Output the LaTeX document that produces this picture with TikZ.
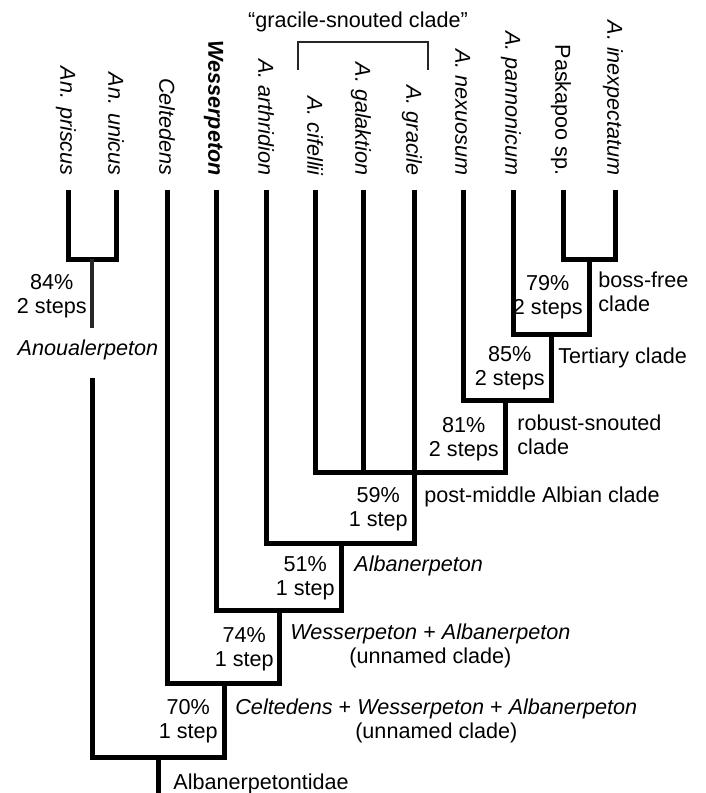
\documentclass[tikz,border=0pt]{standalone}
\usepackage{fontspec}
\setmainfont{Liberation Sans}
\begin{document}
\fontsize{10.8}{11.8}\selectfont
\begin{tikzpicture}[x=0.5pt, y=-0.5pt,
    branch/.style={line width=2.5pt, line join=miter},
    thinbranch/.style={line width=2pt, black!85},
    bracket/.style={line width=1.1pt, black!85},
    taxon/.style={rotate=-90, anchor=mid east, inner sep=0pt, font=\itshape},
    support/.style={align=center, anchor=base east, inner sep=0pt},
    cladename/.style={align=left, anchor=base west, inner sep=0pt}]
    \useasboundingbox (0,0) rectangle (706,793);

    \coordinate (priscus) at (68,190);
    \coordinate (unicus) at (116,190);
    \coordinate (celtedens) at (167,190);
    \coordinate (wesserpeton) at (216,190);
    \coordinate (arthridion) at (266,190);
    \coordinate (cifellii) at (315,190);
    \coordinate (galaktion) at (363,190);
    \coordinate (gracile) at (414,190);
    \coordinate (nexuosum) at (463,190);
    \coordinate (pannonicum) at (513,190);
    \coordinate (paskapoo) at (563,190);
    \coordinate (inexpectatum) at (615,190);

    \node[taxon] (lpriscus) at (66,176) {An. priscus};
    \node[taxon] (lunicus) at (114,176) {An. unicus};
    \node[taxon] (lceltedens) at (165,176) {Celtedens};
    \node[taxon, font=\bfseries\itshape] (lwesserpeton) at (214,176) {Wesserpeton};
    \node[taxon] (larthridion) at (264,176) {A. arthridion};
    \node[taxon] (lcifellii) at (313,176) {A. cifellii};
    \node[taxon] (lgalaktion) at (361,176) {A. galaktion};
    \node[taxon] (lgracile) at (412,176) {A. gracile};
    \node[taxon] (lnexuosum) at (461,176) {A. nexuosum};
    \node[taxon] (lpannonicum) at (511,176) {A. pannonicum};
    \node[taxon, font=\upshape] (lpaskapoo) at (561,176) {Paskapoo sp.};
    \node[taxon] (linexpectatum) at (613,176) {A. inexpectatum};

    \coordinate (gsleft) at (298,70);
    \coordinate (gsmid) at (363,42);
    \coordinate (gsright) at (428,70);
    \draw[bracket] (gsleft) |- (gsmid) -| (gsright);
    \node[anchor=base, inner sep=0pt] (lgracilesnouted) at (358,27) {“gracile-snouted clade”};

    \coordinate (anou) at (92,259);
    \coordinate (anougap) at (92,328);
    \coordinate (anoulow) at (92,378);
    \coordinate (bossfree) at (589,259);
    \coordinate (tertiary) at (551,334);
    \coordinate (robust) at (505,400);
    \coordinate (postmid) at (414,472);
    \coordinate (albanerpeton) at (341,543);
    \coordinate (wessalb) at (279,610);
    \coordinate (celtwa) at (224,683);
    \coordinate (root) at (158,757);
    \coordinate (rootend) at (158,793);

    \draw[branch] (priscus) |- (anou) -| (unicus);
    \draw[thinbranch] (anou) -- (anougap);
    \draw[branch] (paskapoo) |- (bossfree) -| (inexpectatum);
    \draw[branch] (pannonicum) |- (tertiary) -| (bossfree);
    \draw[branch] (nexuosum) |- (robust) -| (tertiary);
    \draw[branch] (cifellii) |- (postmid) -| (robust);
    \draw[branch] (galaktion) -- (galaktion |- postmid);
    \draw[branch] (arthridion) |- (albanerpeton) -| (gracile);
    \draw[branch] (wesserpeton) |- (wessalb) -| (albanerpeton);
    \draw[branch] (celtedens) |- (celtwa) -| (wessalb);
    \draw[branch] (anoulow) |- (root) -| (celtwa);
    \draw[branch] (root) -- (rootend);

    \node[support] (s84) at (87,313) {84\%\\2 steps};
    \node[support] (s79) at (583,314) {79\%\\2 steps};
    \node[support] (s85) at (545,385) {85\%\\2 steps};
    \node[support] (s81) at (499,456) {81\%\\2 steps};
    \node[support] (s59) at (408,526) {59\%\\1 step};
    \node[support] (s51) at (335,595) {51\%\\1 step};
    \node[support] (s74) at (274,666) {74\%\\1 step};
    \node[support] (s70) at (218,738) {70\%\\1 step};

    \node[anchor=base, inner sep=0pt] (canou) at (88,355) {\textit{Anoualerpeton}};
    \node[cladename] (cbossfree) at (598,311) {boss-free\\clade};
    \node[cladename] (ctertiary) at (558,363) {Tertiary clade};
    \node[cladename] (crobust) at (517,454) {robust-snouted\\clade};
    \node[cladename] (cpostmid) at (424,502) {post-middle Albian clade};
    \node[cladename] (calbanerpeton) at (354,571) {\textit{Albanerpeton}};
    \node[cladename, align=center] (cwessalb) at (290,663) {\textit{Wesserpeton} + \textit{Albanerpeton}\\(unnamed clade)};
    \node[cladename, align=center] (cceltwa) at (235,738) {\textit{Celtedens} + \textit{Wesserpeton} + \textit{Albanerpeton}\\(unnamed clade)};
    \node[cladename] (croot) at (173,789) {Albanerpetontidae};
\end{tikzpicture}
\end{document}
